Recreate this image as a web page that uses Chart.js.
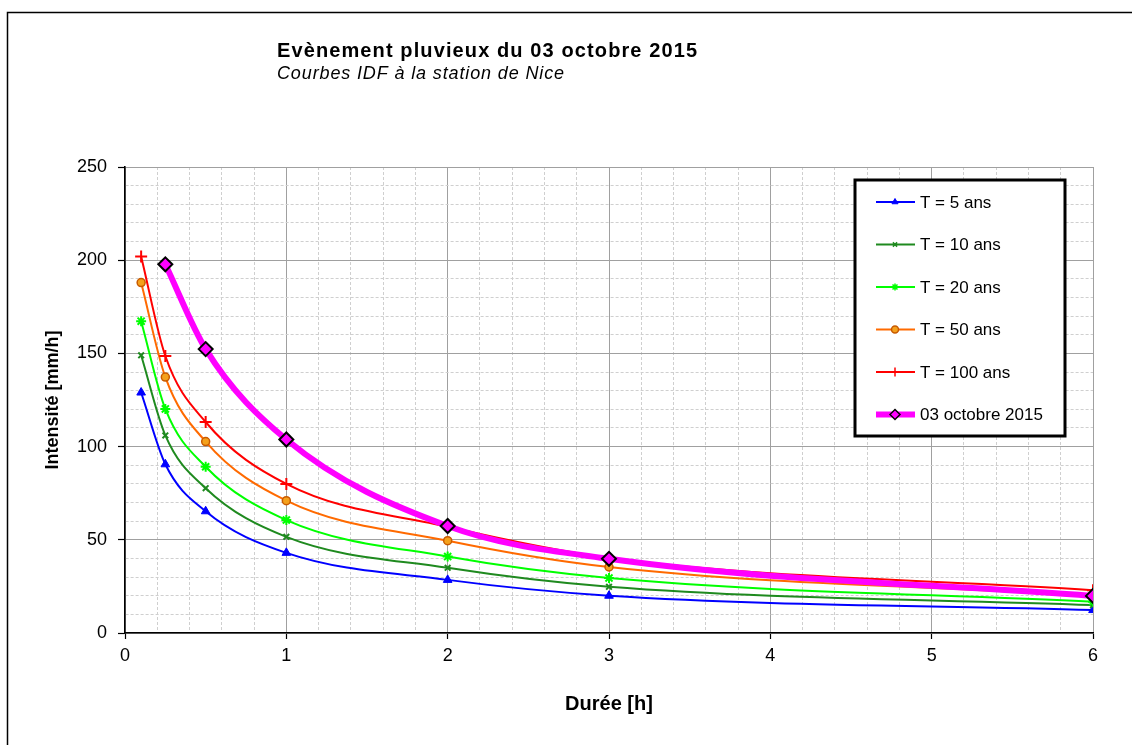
<!DOCTYPE html>
<html><head><meta charset="utf-8">
<script src="https://cdn.jsdelivr.net/npm/chart.js@4.4.1/dist/chart.umd.min.js"></script>
<style>html,body{margin:0;padding:0;background:#fff;}canvas{display:block;}</style>
</head><body>
<canvas id="c" width="1132" height="745"></canvas>
<script>
// ---- data ----
const durations = [0.1, 0.25, 0.5, 1, 2, 3, 6];
const t5   = [129, 90.5, 65.3, 43, 28.5, 20, 12.3];
const t10  = [149, 106, 77.7, 51.6, 35, 24.8, 15];
const t20  = [167.3, 120.2, 89.2, 60.6, 41, 29.5, 16.8];
const t50  = [188, 137.3, 102.7, 71, 49.5, 35.4, 20];
const t100 = [202, 148.6, 113.2, 80, 57, 40.3, 23];
const eventDurations = [0.25, 0.5, 1, 2, 3, 6];
const event2015 = [197.8, 152.3, 103.8, 57.4, 39.8, 19.9];
const seriesLabels = ['T = 5 ans', 'T = 10 ans', 'T = 20 ans', 'T = 50 ans', 'T = 100 ans', '03 octobre 2015'];
const xTickLabels = ['0', '1', '2', '3', '4', '5', '6'];
const yTickLabels = ['0', '50', '100', '150', '200', '250'];
const xMinorStep = 0.2;
const yMinorStep = 10;
const titleText = 'Evènement pluvieux du 03 octobre 2015';
const subtitleText = 'Courbes IDF à la station de Nice';
const xTitle = 'Durée [h]';
const yTitle = 'Intensité [mm/h]';

// ---- helpers ----
const FONT = '"Liberation Sans", Arial, sans-serif';
Chart.defaults.font.family = FONT;
Chart.defaults.color = '#000';

const xMajor = xTickLabels.map(Number);
const yMajor = yTickLabels.map(Number);
function minorTicks(maxV, step){
  const out = [];
  const n = Math.round(maxV / step);
  for (let i = 0; i <= n; i++) out.push(Math.round(i * step * 1000) / 1000);
  return out;
}
const xAll = minorTicks(xMajor[xMajor.length-1], xMinorStep);
const yAll = minorTicks(yMajor[yMajor.length-1], yMinorStep);
const isMaj = (arr, v) => arr.some(m => Math.abs(m - v) < 1e-6);
const pts = (xs, ys) => xs.map((x, i) => ({x: x, y: ys[i]}));

function makeScale(majors, all, labels, extra){
  return Object.assign({
    type: 'linear',
    min: majors[0],
    max: majors[majors.length-1],
    afterBuildTicks: (s) => { s.ticks = all.map(v => ({value: v})); },
    ticks: {
      autoSkip: false,
      maxRotation: 0,
      font: {size: 18},
      color: '#000',
      callback: (v) => { const i = majors.findIndex(m => Math.abs(m - v) < 1e-6); return i >= 0 ? labels[i] : ''; }
    },
    grid: {
      color: (c) => (c.tick && isMaj(majors, c.tick.value)) ? '#A0A0A0' : '#CFCFCF',
      lineWidth: 1,
      tickColor: (c) => (c.tick && isMaj(majors, c.tick.value)) ? '#000' : 'rgba(0,0,0,0)',
      tickWidth: 1.2
    },
    border: {
      display: true, color: '#000', width: 1.6,
      dash: (c) => (c.tick && !isMaj(majors, c.tick.value)) ? [3, 2] : []
    }
  }, extra);
}

const styles = [
  {color: '#0000FF', ps: 'triangle', r: 5, bg: '#0000FF', bc: '#0000FF', bw: 1, lw: 2, lr: 3.5},
  {color: '#1F8A1F', ps: 'crossRot', r: 4, bg: '#1F8A1F', bc: '#1F8A1F', bw: 2, lw: 2, lr: 3},
  {color: '#00FF00', ps: 'star', r: 5, bg: '#00FF00', bc: '#00FF00', bw: 2, lw: 2, lr: 3.5},
  {color: '#FF6A00', ps: 'circle', r: 4, bg: '#F4A11C', bc: '#C85A00', bw: 1.5, lw: 2, lr: 3.5},
  {color: '#FF0000', ps: 'cross', r: 6, bg: '#FF0000', bc: '#FF0000', bw: 2, lw: 2, lr: 4.5},
  {color: '#FF00FF', ps: 'rectRot', r: 7, bg: '#FF00FF', bc: '#000000', bw: 2, lw: 6, lr: 5}
];
const seriesData = [pts(durations, t5), pts(durations, t10), pts(durations, t20), pts(durations, t50), pts(durations, t100), pts(eventDurations, event2015)];

const datasets = seriesData.map((d, i) => {
  const s = styles[i];
  return {
    label: seriesLabels[i],
    data: d,
    borderColor: s.color,
    backgroundColor: s.bg,
    borderWidth: s.lw,
    pointStyle: s.ps,
    pointRadius: s.r,
    pointBackgroundColor: s.bg,
    pointBorderColor: s.bc,
    pointBorderWidth: s.bw,
    cubicInterpolationMode: 'monotone',
    fill: false,
    order: i === 5 ? 0 : 6 - i
  };
});

// ---- plugins ----
function fitText(ctx, txt, x, y, target){
  const w = ctx.measureText(txt).width;
  if ('letterSpacing' in ctx && w < target) {
    ctx.letterSpacing = ((target - w) / (txt.length - 1)).toFixed(2) + 'px';
  }
  ctx.fillText(txt, x, y);
  if ('letterSpacing' in ctx) ctx.letterSpacing = '0px';
}
const bgPlugin = {
  id: 'bg',
  beforeDraw(chart){
    const ctx = chart.ctx;
    ctx.save();
    ctx.fillStyle = '#fff';
    ctx.fillRect(0, 0, chart.width, chart.height);
    ctx.strokeStyle = '#000';
    ctx.lineWidth = 1.5;
    ctx.strokeRect(7.5, 12.5, chart.width + 50, chart.height + 50);
    ctx.fillStyle = '#000';
    ctx.textBaseline = 'alphabetic';
    ctx.textAlign = 'left';
    ctx.font = 'bold 20px ' + FONT;
    fitText(ctx, titleText, 277, 57, 420);
    ctx.font = 'italic 18px ' + FONT;
    fitText(ctx, subtitleText, 277, 79, 287);
    ctx.restore();
  }
};

const legendPlugin = {
  id: 'boxLegend',
  afterDraw(chart){
    const ctx = chart.ctx;
    const ca = chart.chartArea;
    const x0 = ca.right - 238, y0 = ca.top + 13, w = 210, h = 256;
    ctx.save();
    ctx.fillStyle = '#fff';
    ctx.fillRect(x0, y0, w, h);
    ctx.strokeStyle = '#000';
    ctx.lineWidth = 3;
    ctx.strokeRect(x0, y0, w, h);
    ctx.font = '17px ' + FONT;
    ctx.textBaseline = 'middle';
    ctx.textAlign = 'left';
    chart.data.datasets.forEach((ds, i) => {
      const s = styles[i];
      const y = y0 + 22 + i * 42.5;
      ctx.strokeStyle = s.color;
      ctx.lineWidth = s.lw;
      ctx.beginPath();
      ctx.moveTo(x0 + 21, y);
      ctx.lineTo(x0 + 60, y);
      ctx.stroke();
      ctx.fillStyle = s.bg;
      ctx.strokeStyle = s.bc;
      ctx.lineWidth = Math.min(s.bw, 1.5);
      Chart.helpers.drawPoint(ctx, {pointStyle: s.ps, radius: s.lr, borderWidth: Math.min(s.bw, 1.5), rotation: 0}, x0 + 40, y);
      ctx.fillStyle = '#000';
      ctx.fillText(ds.label, x0 + 65, y + 1);
    });
    ctx.restore();
  }
};

new Chart(document.getElementById('c'), {
  type: 'line',
  data: {datasets: datasets},
  options: {
    responsive: false,
    animation: false,
    layout: {padding: {top: 167, right: 39, left: 0, bottom: 0}},
    plugins: {legend: {display: false}, title: {display: false}, tooltip: {enabled: false}},
    scales: {
      x: makeScale(xMajor, xAll, xTickLabels, {
        position: 'bottom',
        afterFit: (s) => { s.height = 112; },
        title: {display: true, text: xTitle, font: {size: 20, weight: 'bold'}, padding: {top: 0, bottom: 29}, color: '#000'}
      }),
      y: makeScale(yMajor, yAll, yTickLabels, {
        position: 'left',
        afterFit: (s) => { s.width = 125; },
        title: {display: true, text: yTitle, font: {size: 18, weight: 'bold'}, padding: {top: 42, bottom: 0}, color: '#000'}
      })
    }
  },
  plugins: [bgPlugin, legendPlugin]
});
const ch = Chart.getChart('c');
ch.options.scales.x.grid.tickLength = 6;
ch.options.scales.x.ticks.padding = 6;
ch.options.scales.y.grid.tickLength = 7;
ch.options.scales.y.ticks.padding = 11;
ch.update('none');
</script>
</body></html>
